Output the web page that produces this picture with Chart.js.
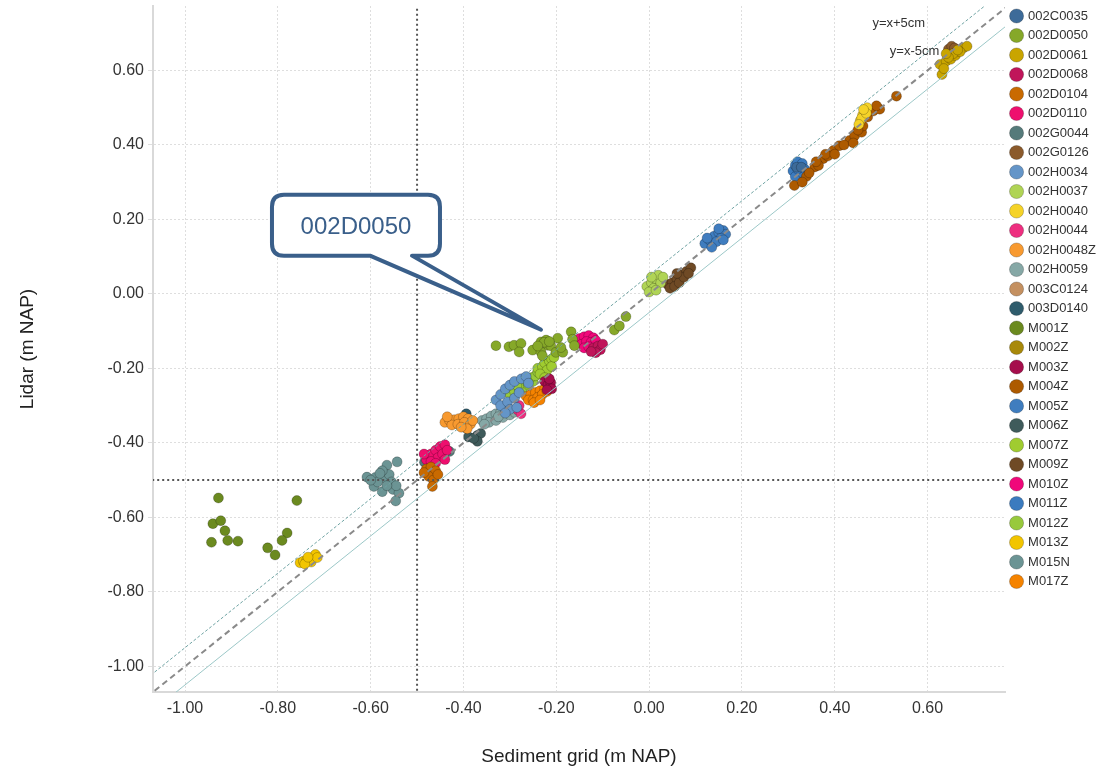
<!DOCTYPE html>
<html>
<head>
<meta charset="utf-8">
<script src="https://cdn.jsdelivr.net/npm/chart.js@4"></script>
<style>
  html, body { margin: 0; padding: 0; background: #fff; }
  #wrap { width: 1102px; height: 769px; }
</style>
</head>
<body>
<div id="wrap"><canvas id="chart" width="1102" height="769"></canvas></div>
<script>
// station names in legend order
const stations = ['002C0035','002D0050','002D0061','002D0068','002D0104','002D0110','002G0044','002G0126',
  '002H0034','002H0037','002H0040','002H0044','002H0048Z','002H0059','003C0124','003D0140',
  'M001Z','M002Z','M003Z','M004Z','M005Z','M006Z','M007Z','M009Z','M010Z','M011Z','M012Z','M013Z','M015N','M017Z'];

const stationColors = ['#3d6b99','#86a829','#c9a500','#c0155a','#c96a00','#ee0f6e','#557a7a','#8b5a2b',
  '#6495c8','#b0d455','#f5d328','#ee2f80','#f89a30','#86a8a6','#c49060','#2f5c6c',
  '#6b8a1f','#a8890a','#a50e4c','#ad5a00','#3f7dbf','#3f5b5b','#a0cc30','#6f4a25','#f0087a','#3b7bbf','#98c93c','#f2c500','#6b9494','#f58300'];

// [sediment grid, lidar] pairs per station
const p002C0035 = [[0.318,0.340],[0.328,0.340]];
const p002D0050 = [[-0.330,-0.139],[-0.302,-0.142],[-0.291,-0.138],[-0.276,-0.133],[-0.280,-0.156],[-0.251,-0.151],
  [-0.233,-0.129],[-0.222,-0.124],[-0.219,-0.138],[-0.233,-0.156],[-0.230,-0.166],[-0.212,-0.139],[-0.197,-0.119],
  [-0.201,-0.157],[-0.186,-0.157],[-0.190,-0.144],[-0.168,-0.102],[-0.165,-0.122],[-0.161,-0.139],[-0.075,-0.097],
  [-0.064,-0.086],[-0.050,-0.061],[-0.226,-0.130],[-0.215,-0.128],[-0.240,-0.140]];
const p002D0061 = [[0.627,0.616],[0.631,0.589],[0.640,0.625],[0.650,0.630],[0.660,0.640],[0.677,0.660],[0.685,0.665],
  [0.670,0.650],[0.655,0.645],[0.645,0.635],[0.635,0.605],[0.665,0.655],[0.640,0.645]];
const p002D0068 = [[-0.120,-0.145],[-0.110,-0.140],[-0.105,-0.150],[-0.115,-0.158],[-0.125,-0.155],[-0.100,-0.135]];
const p002D0104 = [[-0.480,-0.470],[-0.470,-0.465],[-0.460,-0.475],[-0.475,-0.490],[-0.465,-0.500],[-0.455,-0.485],
  [-0.467,-0.517],[-0.485,-0.480]];
const p002D0110 = [[-0.480,-0.445],[-0.470,-0.430],[-0.460,-0.420],[-0.450,-0.410],[-0.440,-0.405],[-0.455,-0.440],
  [-0.445,-0.430],[-0.435,-0.420],[-0.470,-0.450],[-0.460,-0.455],[-0.485,-0.430],[-0.440,-0.445]];
const p002G0044 = [[-0.484,-0.452],[-0.430,-0.423]];
const p002G0126 = [[0.645,0.657],[0.652,0.665],[0.658,0.660]];
const p002H0034 = [[-0.330,-0.285],[-0.320,-0.270],[-0.310,-0.255],[-0.300,-0.245],[-0.290,-0.235],[-0.275,-0.228],
  [-0.265,-0.222],[-0.320,-0.300],[-0.305,-0.290],[-0.290,-0.280],[-0.280,-0.265],[-0.300,-0.310],[-0.285,-0.305],
  [-0.310,-0.320],[-0.260,-0.240]];
const p002H0037 = [[-0.005,0.020],[0.005,0.030],[0.015,0.040],[0.020,0.050],[0.010,0.015],[0.025,0.030],[0.000,0.005],
  [0.015,0.010],[0.030,0.045],[0.005,0.045]];
const p002H0040 = [[0.455,0.465],[0.460,0.480],[0.465,0.490],[0.470,0.500],[0.458,0.472],[0.468,0.485],[0.452,0.455],[0.462,0.495]];
const p002H0044 = [[-0.283,-0.312],[-0.276,-0.322],[-0.280,-0.300]];
const p002H0048Z = [[-0.440,-0.345],[-0.430,-0.340],[-0.420,-0.338],[-0.410,-0.335],[-0.400,-0.330],[-0.390,-0.335],
  [-0.425,-0.352],[-0.412,-0.350],[-0.398,-0.345],[-0.385,-0.350],[-0.392,-0.362],[-0.405,-0.358],[-0.435,-0.330],[-0.380,-0.340]];
const p002H0059 = [[-0.360,-0.340],[-0.350,-0.335],[-0.340,-0.328],[-0.330,-0.322],[-0.320,-0.318],[-0.310,-0.312],
  [-0.300,-0.310],[-0.345,-0.345],[-0.330,-0.340],[-0.315,-0.332],[-0.300,-0.325],[-0.290,-0.318],[-0.355,-0.350],[-0.325,-0.330]];
const p003C0124 = [];
const p003D0140 = [[-0.394,-0.322],[-0.395,-0.360]];
const pM001Z = [[-0.928,-0.548],[-0.940,-0.617],[-0.923,-0.609],[-0.914,-0.636],[-0.943,-0.667],[-0.908,-0.662],
  [-0.886,-0.664],[-0.759,-0.555],[-0.780,-0.642],[-0.791,-0.662],[-0.822,-0.682],[-0.806,-0.701]];
const pM002Z = [];
const pM003Z = [[-0.225,-0.235],[-0.218,-0.245],[-0.212,-0.238],[-0.210,-0.255],[-0.220,-0.258],[-0.215,-0.228]];
const pM004Z = [[0.313,0.291],[0.339,0.315],[0.357,0.341],[0.375,0.363],[0.397,0.385],[0.410,0.398],[0.432,0.412],
  [0.443,0.425],[0.458,0.434],[0.461,0.451],[0.471,0.475],[0.483,0.491],[0.497,0.496],[0.533,0.531],[0.345,0.325],
  [0.365,0.345],[0.385,0.370],[0.420,0.400],[0.440,0.405],[0.450,0.440],[0.330,0.300],[0.490,0.505],[0.380,0.375],
  [0.360,0.355],[0.400,0.375]];
const pM005Z = [[0.120,0.135],[0.130,0.145],[0.140,0.155],[0.150,0.165],[0.160,0.170],[0.165,0.160],[0.155,0.150],
  [0.145,0.140],[0.135,0.125],[0.125,0.150],[0.150,0.175],[0.160,0.145]];
const pM006Z = [[-0.389,-0.384],[-0.370,-0.380],[-0.363,-0.375],[-0.370,-0.396],[-0.378,-0.388]];
const pM007Z = [[-0.240,-0.200],[-0.230,-0.195],[-0.225,-0.185],[-0.215,-0.180],[-0.210,-0.175],[-0.220,-0.205],
  [-0.210,-0.195],[-0.235,-0.215],[-0.225,-0.225],[-0.205,-0.170]];
const pM009Z = [[0.040,0.025],[0.050,0.030],[0.060,0.040],[0.070,0.050],[0.080,0.060],[0.090,0.070],[0.045,0.015],
  [0.055,0.020],[0.065,0.030],[0.075,0.045],[0.085,0.055],[0.060,0.055]];
const pM010Z = [[-0.155,-0.130],[-0.150,-0.120],[-0.140,-0.115],[-0.130,-0.112],[-0.120,-0.118],[-0.145,-0.135],
  [-0.135,-0.128],[-0.125,-0.130],[-0.115,-0.125],[-0.140,-0.145],[-0.130,-0.142]];
const pM011Z = [[0.310,0.330],[0.315,0.345],[0.320,0.355],[0.330,0.350],[0.335,0.335],[0.325,0.320],[0.315,0.315],
  [0.330,0.325],[0.320,0.335]];
const pM012Z = [[-0.300,-0.270],[-0.290,-0.262],[-0.280,-0.255],[-0.270,-0.250],[-0.275,-0.240],[-0.260,-0.245],
  [-0.250,-0.235],[-0.255,-0.225],[-0.245,-0.220],[-0.240,-0.210],[-0.285,-0.245]];
const pM013Z = [[-0.752,-0.722],[-0.745,-0.718],[-0.738,-0.716],[-0.730,-0.712],[-0.722,-0.705],[-0.719,-0.700],
  [-0.728,-0.720],[-0.742,-0.725],[-0.715,-0.708],[-0.735,-0.707]];
const pM015N = [[-0.608,-0.492],[-0.590,-0.493],[-0.565,-0.460],[-0.543,-0.451],[-0.593,-0.517],[-0.575,-0.531],
  [-0.552,-0.525],[-0.539,-0.535],[-0.546,-0.556],[-0.570,-0.495],[-0.560,-0.485],[-0.575,-0.475],[-0.585,-0.505],
  [-0.555,-0.505],[-0.545,-0.515],[-0.600,-0.500],[-0.580,-0.482],[-0.565,-0.515]];
const pM017Z = [[-0.265,-0.275],[-0.255,-0.270],[-0.245,-0.265],[-0.235,-0.260],[-0.225,-0.255],[-0.260,-0.285],
  [-0.250,-0.285],[-0.240,-0.278],[-0.230,-0.270],[-0.220,-0.262],[-0.248,-0.292],[-0.235,-0.285]];

const stationPoints = [p002C0035,p002D0050,p002D0061,p002D0068,p002D0104,p002D0110,p002G0044,p002G0126,
  p002H0034,p002H0037,p002H0040,p002H0044,p002H0048Z,p002H0059,p003C0124,p003D0140,
  pM001Z,pM002Z,pM003Z,pM004Z,pM005Z,pM006Z,pM007Z,pM009Z,pM010Z,pM011Z,pM012Z,pM013Z,pM015N,pM017Z];

const xTicks = [-1.0,-0.8,-0.6,-0.4,-0.2,0,0.2,0.4,0.6];
const yTicks = [-1.0,-0.8,-0.6,-0.4,-0.2,0,0.2,0.4,0.6];
const xRange = [-1.069, 0.767];
const yRange = [-1.069, 0.773];
const threshold = -0.5;
const offset = 0.05;   // 5 cm

const lineX = [-1.2, 0.9];

const datasets = stations.map((name, i) => ({
  label: name,
  data: stationPoints[i].map(p => ({x: p[0], y: p[1]})),
  backgroundColor: stationColors[i],
  borderColor: 'rgba(0,0,0,0.22)',
  borderWidth: 1,
  pointRadius: 5,
  order: 2
}));

function refLine(pts, color, width, dash) {
  return { label: '_ref', data: pts, showLine: true, pointRadius: 0, borderColor: color,
    borderWidth: width, borderDash: dash, fill: false, order: 1 };
}
datasets.push(refLine(lineX.map(x => ({x, y: x})), '#8a8a8a', 2, [6, 4]));
datasets.push(refLine(lineX.map(x => ({x, y: x + offset})), '#6fa3a3', 1, [3, 2]));
datasets.push(refLine(lineX.map(x => ({x, y: x - offset})), '#9cc8c8', 1, []));
datasets.push(refLine([{x: threshold, y: -1.2}, {x: threshold, y: 0.9}], '#555', 2, [2, 3]));
datasets.push(refLine([{x: -1.2, y: threshold}, {x: 0.9, y: threshold}], '#555', 2, [2, 3]));

// callout + line labels
const annotations = {
  id: 'annotations',
  afterDraw(chart) {
    const {ctx, scales: {x, y}} = chart;
    ctx.save();
    ctx.fillStyle = '#333';
    ctx.font = '13px "Liberation Sans", Arial, sans-serif';
    ctx.textAlign = 'center';
    ctx.textBaseline = 'middle';
    ctx.fillText('y=x+5cm', x.getPixelForValue(0.538), y.getPixelForValue(0.725));
    ctx.fillText('y=x-5cm', x.getPixelForValue(0.572), y.getPixelForValue(0.651));

    // callout pointing at 002D0050
    const tipX = x.getPixelForValue(-0.233), tipY = y.getPixelForValue(-0.096);
    const bx = tipX - 269, by = tipY - 135, bw = 168, bh = 61, r = 12;
    ctx.beginPath();
    ctx.moveTo(bx + r, by);
    ctx.lineTo(bx + bw - r, by);
    ctx.quadraticCurveTo(bx + bw, by, bx + bw, by + r);
    ctx.lineTo(bx + bw, by + bh - r);
    ctx.quadraticCurveTo(bx + bw, by + bh, bx + bw - r, by + bh);
    ctx.lineTo(bx + 140, by + bh);
    ctx.lineTo(tipX, tipY);
    ctx.lineTo(bx + 98, by + bh);
    ctx.lineTo(bx + r, by + bh);
    ctx.quadraticCurveTo(bx, by + bh, bx, by + bh - r);
    ctx.lineTo(bx, by + r);
    ctx.quadraticCurveTo(bx, by, bx + r, by);
    ctx.closePath();
    ctx.fillStyle = '#fff';
    ctx.fill();
    ctx.lineWidth = 4;
    ctx.lineJoin = 'round';
    ctx.strokeStyle = '#3a5f8a';
    ctx.stroke();
    ctx.fillStyle = '#3a5f8a';
    ctx.font = '24px "Liberation Sans", Arial, sans-serif';
    ctx.fillText('002D0050', bx + 84, by + 33);
    ctx.restore();
  }
};

const tickFont = {family: '"Liberation Sans", Arial, sans-serif', size: 16};
const titleFont = {family: '"Liberation Sans", Arial, sans-serif', size: 19};

new Chart(document.getElementById('chart'), {
  type: 'scatter',
  data: { datasets },
  options: {
    responsive: false,
    animation: false,
    layout: { padding: { top: 3, right: -4, left: 0, bottom: 0 } },
    plugins: {
      tooltip: { enabled: false },
      legend: {
        position: 'right',
        align: 'start',
        labels: {
          usePointStyle: true,
          pointStyle: 'circle',
          boxHeight: 10,
          boxWidth: 10,
          padding: 6.5,
          color: '#333',
          font: {family: '"Liberation Sans", Arial, sans-serif', size: 13},
          filter: item => item.text !== '_ref'
        }
      }
    },
    scales: {
      x: {
        type: 'linear',
        min: xRange[0], max: xRange[1],
        afterBuildTicks: s => { s.ticks = xTicks.map(v => ({value: v})); },
        afterFit: s => { s.height = 77; s.paddingLeft = 0; s.paddingRight = 0; },
        ticks: { font: tickFont, color: '#333', callback: v => v.toFixed(2), padding: 7 },
        grid: { color: '#dedede', lineWidth: 1, drawTicks: false },
        border: { color: '#d9d9d9', width: 2, dash: [2, 2] },
        title: { display: true, text: 'Sediment grid (m NAP)', font: titleFont, color: '#222', padding: {top: 14, bottom: 1} }
      },
      y: {
        type: 'linear',
        min: yRange[0], max: yRange[1],
        afterBuildTicks: s => { s.ticks = yTicks.map(v => ({value: v})); },
        afterFit: s => { s.width = 153; s.paddingTop = 4; s.paddingBottom = 0; },
        ticks: { font: tickFont, color: '#333', callback: v => v.toFixed(2), padding: 4 },
        grid: { color: '#dedede', lineWidth: 1, tickLength: 5 },
        border: { color: '#d9d9d9', width: 2, dash: [2, 2] },
        title: { display: true, text: 'Lidar (m NAP)', font: titleFont, color: '#222', padding: {top: 16, bottom: 4} }
      }
    }
  },
  plugins: [annotations]
});
</script>
</body>
</html>
